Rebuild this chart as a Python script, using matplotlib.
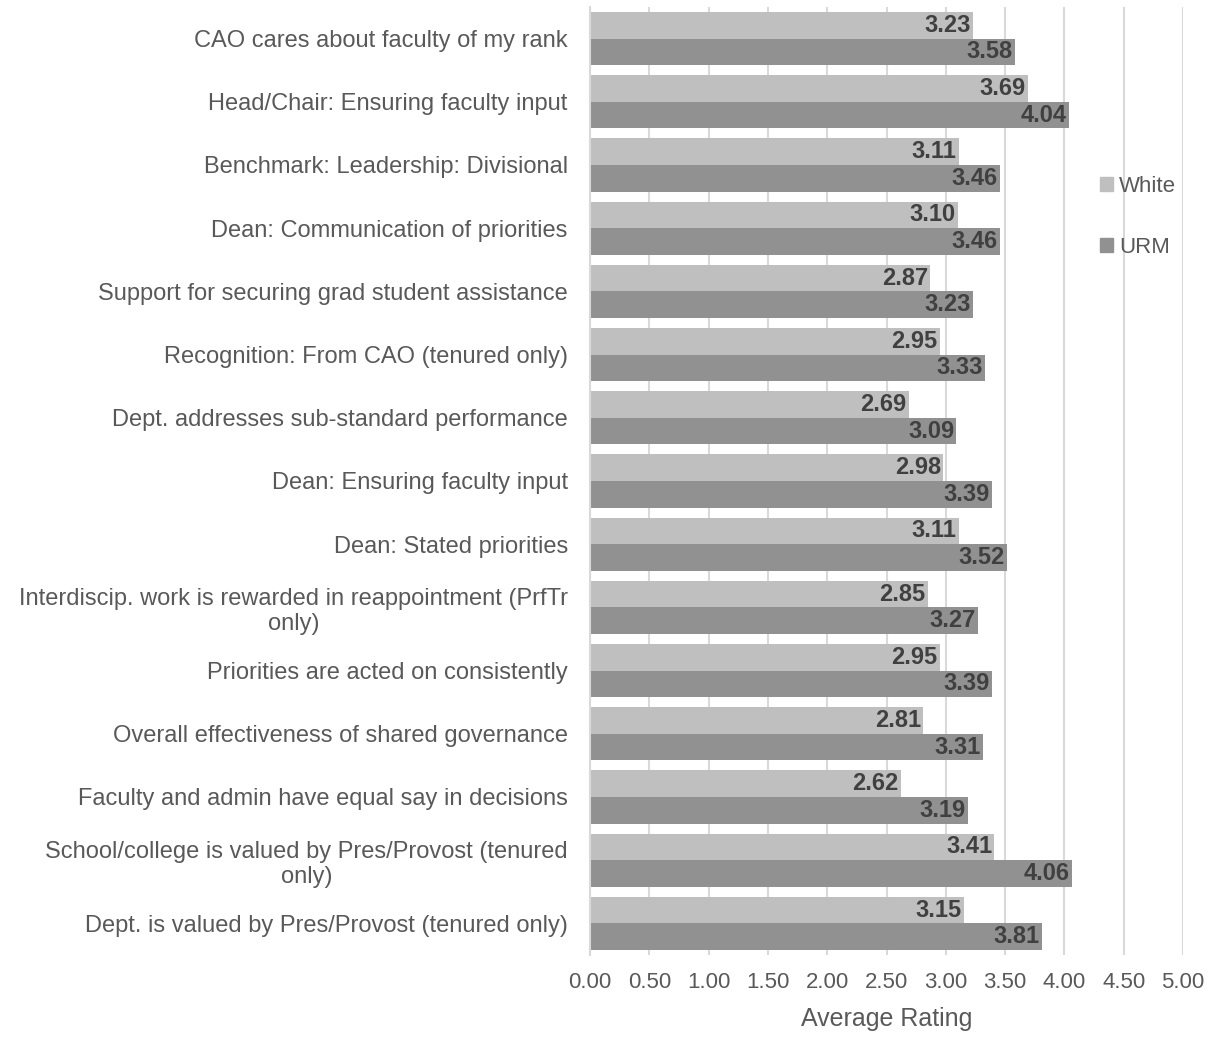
import numpy as np
import matplotlib
matplotlib.use('Agg')
import matplotlib.pyplot as plt
from matplotlib.patches import Patch

plt.rcParams['font.family'] = ['Liberation Sans', 'DejaVu Sans']

# Survey items, top to bottom
categories = [
    'CAO cares about faculty of my rank',
    'Head/Chair: Ensuring faculty input',
    'Benchmark: Leadership: Divisional',
    'Dean: Communication of priorities',
    'Support for securing grad student assistance',
    'Recognition: From CAO (tenured only)',
    'Dept. addresses sub-standard performance',
    'Dean: Ensuring faculty input',
    'Dean: Stated priorities',
    'Interdiscip. work is rewarded in reappointment (PrfTr\nonly)',
    'Priorities are acted on consistently',
    'Overall effectiveness of shared governance',
    'Faculty and admin have equal say in decisions',
    'School/college is valued by Pres/Provost (tenured\nonly)',
    'Dept. is valued by Pres/Provost (tenured only)',
]
white = [3.23, 3.69, 3.11, 3.10, 2.87, 2.95, 2.69, 2.98, 3.11, 2.85, 2.95, 2.81, 2.62, 3.41, 3.15]
urm = [3.58, 4.04, 3.46, 3.46, 3.23, 3.33, 3.09, 3.39, 3.52, 3.27, 3.39, 3.31, 3.19, 4.06, 3.81]
xticks = [0.0, 0.5, 1.0, 1.5, 2.0, 2.5, 3.0, 3.5, 4.0, 4.5, 5.0]

c_white = '#BFBFBF'
c_urm = '#919191'
txt = '#595959'

fig = plt.figure(figsize=(12.17, 10.41), dpi=100)
ax = fig.add_axes([590/1217, 1 - 955/1041, (1183-590)/1217, (955-7)/1041])

y = np.arange(len(categories))
h = 0.42
ax.barh(y - h/2, white, height=h, color=c_white, label='White', zorder=2)
ax.barh(y + h/2, urm, height=h, color=c_urm, label='URM', zorder=2)

for yi, w, u in zip(y, white, urm):
    ax.text(w - 0.02, yi - h/2, f'{w:.2f}', ha='right', va='center',
            fontsize=17, fontweight='bold', color='#404040', zorder=3)
    ax.text(u - 0.02, yi + h/2, f'{u:.2f}', ha='right', va='center',
            fontsize=17, fontweight='bold', color='#404040', zorder=3)

ax.set_ylim(len(categories) - 0.5, -0.5)
ax.set_xlim(0, 5)
ax.set_yticks(y)
ax.set_yticklabels(categories, fontsize=17, color=txt)
for t in ax.get_yticklabels():
    t.set_multialignment('center')
ax.set_xticks(xticks)
ax.set_xticklabels([f'{v:.2f}' for v in xticks], fontsize=16, color=txt)
ax.tick_params(axis='y', length=0, pad=16)
ax.tick_params(axis='x', length=0, pad=12)
ax.set_xlabel('Average Rating', fontsize=18, color=txt, labelpad=10)

ax.grid(axis='x', color='#D9D9D9', linewidth=1.5, zorder=0)
for s in ['top', 'right', 'bottom']:
    ax.spines[s].set_visible(False)
ax.spines['left'].set_color('#D9D9D9')
ax.spines['left'].set_linewidth(1.5)

handles = [Patch(color=c_white), Patch(color=c_urm)]
leg = fig.legend(handles, ['White', 'URM'], loc='center left',
                 bbox_to_anchor=(1080/1217, 1 - 217/1041), frameon=False,
                 fontsize=16, handlelength=0.6, handleheight=0.6,
                 handletextpad=0.25, labelspacing=1.8)
for t in leg.get_texts():
    t.set_color(txt)

fig.savefig('out.png', dpi=100)
